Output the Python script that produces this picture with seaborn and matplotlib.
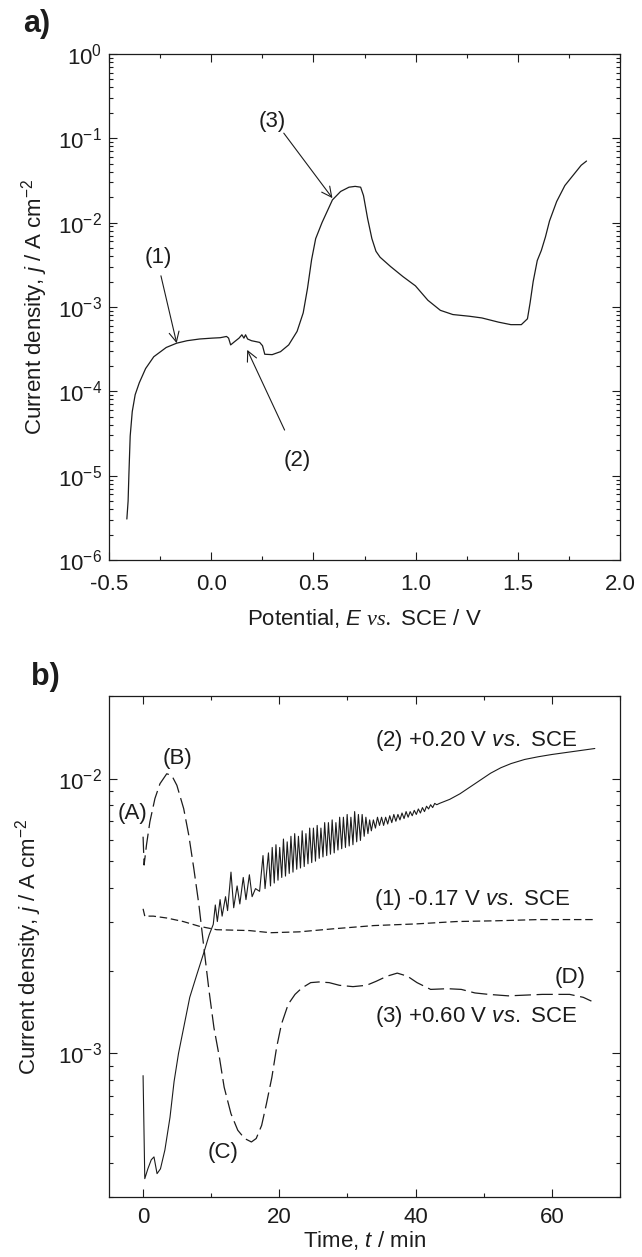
import numpy as np
import pandas as pd
import matplotlib
matplotlib.use("Agg")
import matplotlib.pyplot as plt
import seaborn as sns
from matplotlib.ticker import (LogLocator, LogFormatterMathtext, MultipleLocator,
                               FormatStrFormatter, NullFormatter)

# ---------------------------------------------------------------- data
# a) anodic polarization curve: potential (V vs. SCE) and current density (A cm^-2)
pot_E = [-0.4127, -0.4066, -0.4025, -0.3964, -0.3863, -0.372, -0.352, -0.321, -0.281,
         -0.220, -0.169, -0.118, -0.057, 0.004, 0.044, 0.075, 0.085, 0.095, 0.115,
         0.136, 0.150, 0.160, 0.168, 0.178, 0.197, 0.237, 0.251, 0.262, 0.298, 0.339,
         0.379, 0.42, 0.45, 0.471, 0.491, 0.511, 0.542, 0.593, 0.633, 0.674, 0.704,
         0.731, 0.745, 0.765, 0.786, 0.806, 0.826, 0.877, 0.938, 0.999, 1.06, 1.121,
         1.182, 1.263, 1.324, 1.405, 1.466, 1.517, 1.547, 1.560, 1.575, 1.595, 1.615,
         1.635, 1.655, 1.69, 1.73, 1.77, 1.81, 1.836]
pot_j = [3.06e-6, 5.0e-6, 1.07e-5, 2.95e-5, 5.75e-5, 9.12e-5, 1.26e-4, 1.86e-4, 2.57e-4,
         3.31e-4, 3.72e-4, 3.98e-4, 4.17e-4, 4.27e-4, 4.32e-4, 4.47e-4, 4.27e-4, 3.55e-4,
         3.89e-4, 4.27e-4, 4.68e-4, 4.27e-4, 4.68e-4, 4.17e-4, 3.98e-4, 3.80e-4, 3.47e-4,
         2.75e-4, 2.72e-4, 2.95e-4, 3.55e-4, 5.13e-4, 8.51e-4, 1.66e-3, 3.63e-3, 6.46e-3,
         1.0e-2, 1.86e-2, 2.34e-2, 2.63e-2, 2.69e-2, 2.63e-2, 2.09e-2, 1.12e-2, 6.46e-3,
         4.57e-3, 3.89e-3, 3.02e-3, 2.29e-3, 1.78e-3, 1.20e-3, 9.12e-4, 8.13e-4, 7.76e-4,
         7.41e-4, 6.61e-4, 6.17e-4, 6.17e-4, 7.24e-4, 1.12e-3, 2.0e-3, 3.55e-3, 4.68e-3,
         6.76e-3, 1.047e-2, 1.78e-2, 2.75e-2, 3.63e-2, 4.79e-2, 5.37e-2]

# labelled points on the polarization curve: (label, text pos, arrow tail, arrow tip)
pot_marks = ["(1)", "(2)", "(3)"]
pot_mark_text = [(-0.26, 3.9e-3), (0.42, 1.5e-5), (0.298, 0.16)]
pot_mark_tail = [(-0.246, 2.34e-3), (0.359, 3.47e-5), (0.355, 0.115)]
pot_mark_tip = [(-0.169, 3.72e-4), (0.176, 3.1e-4), (0.593, 1.95e-2)]

# b) potentiostatic transients: time (min) and current density (A cm^-2)
# (1) -0.17 V vs. SCE
t1 = [0.0, 0.25, 1.5, 3.5, 5.9, 8.3, 10.8, 15.6, 18.7, 22.9, 27.8, 33.9, 40.0, 46.0,
      52.0, 58.0, 66.3]
j1 = [3.36e-3, 3.16e-3, 3.16e-3, 3.11e-3, 3.02e-3, 2.90e-3, 2.82e-3, 2.80e-3, 2.75e-3,
      2.77e-3, 2.84e-3, 2.92e-3, 2.96e-3, 3.02e-3, 3.04e-3, 3.07e-3, 3.07e-3]

# (2) +0.20 V vs. SCE: initial rise, current oscillations, smooth tail
t2_rise = [0.0, 0.25, 0.7, 1.2, 1.6, 2.05, 2.55, 3.2, 3.95, 4.55, 5.2, 5.95, 6.85, 7.9,
           8.9, 9.7, 10.3]
j2_rise = [8.3e-4, 3.5e-4, 3.8e-4, 4.1e-4, 4.2e-4, 3.65e-4, 3.8e-4, 4.45e-4, 5.85e-4,
           7.9e-4, 1.0e-3, 1.24e-3, 1.6e-3, 1.94e-3, 2.32e-3, 2.7e-3, 2.95e-3]
t2_osc = [10.6, 10.9, 11.3, 11.6, 12.1, 12.4, 12.9, 13.3, 13.8, 14.2, 14.7, 15.1, 15.6,
          16.0, 16.5, 17.1, 17.6, 17.9,
          18.4, 18.7, 18.95, 19.25, 19.5, 19.8, 20.05, 20.35, 20.6, 20.9, 21.15, 21.45,
          21.7, 22.0, 22.25, 22.55, 22.8, 23.1, 23.35, 23.65, 23.9, 24.2, 24.45, 24.75,
          25.0, 25.3, 25.55, 25.85, 26.1, 26.4, 26.65, 26.95, 27.2, 27.5, 27.75, 28.05,
          28.3, 28.6, 28.85, 29.15, 29.4, 29.7, 29.95, 30.25, 30.5, 30.8, 31.05, 31.35,
          31.6, 31.9, 32.15, 32.45, 32.7, 33.0, 33.25,
          33.5, 33.8, 34.1, 34.4, 34.7, 35.0, 35.3, 35.6, 35.9, 36.2, 36.5, 36.8, 37.1,
          37.4, 37.7, 38.0, 38.3, 38.6, 38.9, 39.2, 39.5, 39.8, 40.1, 40.4, 40.7, 41.0,
          41.3, 41.6, 41.9, 42.2, 42.5, 42.8, 43.1]
j2_osc = [3.47e-3, 3.02e-3, 3.63e-3, 3.16e-3, 3.72e-3, 3.31e-3, 4.57e-3, 3.39e-3, 4.07e-3,
          3.50e-3, 4.37e-3, 3.63e-3, 4.47e-3, 3.72e-3, 3.98e-3, 3.89e-3, 5.25e-3, 3.98e-3,
          5.37e-3, 4.07e-3, 5.62e-3, 4.17e-3, 5.75e-3, 4.27e-3, 5.62e-3, 4.37e-3, 6.03e-3,
          4.42e-3, 5.89e-3, 4.52e-3, 6.17e-3, 4.57e-3, 6.31e-3, 4.68e-3, 6.17e-3, 4.73e-3,
          6.46e-3, 4.79e-3, 6.31e-3, 4.90e-3, 6.61e-3, 4.95e-3, 6.61e-3, 5.01e-3, 6.76e-3,
          5.13e-3, 6.61e-3, 5.19e-3, 6.92e-3, 5.25e-3, 6.92e-3, 5.31e-3, 7.08e-3, 5.37e-3,
          6.92e-3, 5.50e-3, 7.24e-3, 5.56e-3, 7.24e-3, 5.62e-3, 7.41e-3, 5.69e-3, 7.24e-3,
          5.75e-3, 7.59e-3, 5.89e-3, 7.41e-3, 5.96e-3, 7.41e-3, 6.17e-3, 7.24e-3, 6.31e-3,
          7.08e-3,
          6.46e-3, 7.08e-3, 6.61e-3, 7.24e-3, 6.76e-3, 7.24e-3, 6.76e-3, 7.24e-3, 6.84e-3,
          7.33e-3, 6.92e-3, 7.41e-3, 7.00e-3, 7.41e-3, 7.08e-3, 7.50e-3, 7.16e-3, 7.59e-3,
          7.24e-3, 7.59e-3, 7.33e-3, 7.67e-3, 7.41e-3, 7.76e-3, 7.50e-3, 7.85e-3, 7.59e-3,
          7.94e-3, 7.76e-3, 8.04e-3, 7.85e-3, 8.13e-3, 8.04e-3]
t2_tail = [43.5, 45.0, 46.5, 48.0, 49.5, 51.0, 52.5, 54.0, 56.0, 58.0, 60.0, 62.0, 64.0, 66.3]
j2_tail = [8.13e-3, 8.41e-3, 8.81e-3, 9.33e-3, 9.89e-3, 1.047e-2, 1.096e-2, 1.135e-2,
           1.175e-2, 1.202e-2, 1.225e-2, 1.245e-2, 1.265e-2, 1.288e-2]

# (3) +0.60 V vs. SCE
t3 = [0.0, 0.15, 0.5, 1.0, 1.74, 2.48, 3.47, 4.2, 4.96, 5.96, 6.7, 7.44, 8.19, 8.93, 9.68,
      10.4, 11.2, 11.9, 12.9, 13.9, 14.9, 15.9, 16.6, 17.4, 18.1, 18.9, 19.6, 20.3, 21.3,
      22.3, 23.3, 24.6, 25.8, 27.3, 28.8, 30.8, 32.8, 34.2, 35.8, 37.3, 38.8, 40.2, 42.2,
      44.7, 46.7, 48.7, 50.7, 53.6, 58.6, 62.6, 64.6, 65.8]
j3 = [6.15e-3, 4.85e-3, 5.74e-3, 6.97e-3, 8.47e-3, 9.59e-3, 1.042e-2, 1.028e-2, 9.46e-3,
      7.78e-3, 6.24e-3, 4.72e-3, 3.48e-3, 2.42e-3, 1.69e-3, 1.24e-3, 9.68e-4, 7.53e-4,
      6.03e-4, 5.25e-4, 4.90e-4, 4.76e-4, 4.90e-4, 5.47e-4, 6.55e-4, 8.18e-4, 1.052e-3,
      1.276e-3, 1.51e-3, 1.64e-3, 1.73e-3, 1.81e-3, 1.82e-3, 1.81e-3, 1.77e-3, 1.75e-3,
      1.77e-3, 1.83e-3, 1.91e-3, 1.96e-3, 1.91e-3, 1.81e-3, 1.71e-3, 1.72e-3, 1.71e-3,
      1.66e-3, 1.64e-3, 1.62e-3, 1.64e-3, 1.64e-3, 1.60e-3, 1.55e-3]

# curve captions and feature letters in panel b
curve_captions = ["(2) +0.20 V $\\mathit{vs.}$ SCE", "(1) -0.17 V $\\mathit{vs.}$ SCE",
                  "(3) +0.60 V $\\mathit{vs.}$ SCE"]
caption_pos = [(63.7, 1.38e-2), (62.7, 3.64e-3), (63.7, 1.36e-3)]
letters = ["(A)", "(B)", "(C)", "(D)"]
letter_pos = [(-1.6, 7.5e-3), (5.0, 1.18e-2), (11.8, 4.34e-4), (62.7, 1.89e-3)]

# ---------------------------------------------------------------- style
INK = "#1c1c1c"
sns.set_style("ticks")
plt.rcParams.update({
    "font.family": ["Liberation Sans", "DejaVu Sans"],
    "mathtext.fontset": "custom",
    "mathtext.rm": "Liberation Sans",
    "mathtext.it": "Liberation Sans:italic",
    "mathtext.cal": "Liberation Serif:italic",
    "axes.unicode_minus": False,
    "text.color": INK,
    "axes.labelcolor": INK,
})
FS = 16


def style_axes(ax, xpad):
    ax.tick_params(which="both", direction="in", top=True, right=True,
                   width=0.8, color=INK, labelsize=FS, labelcolor=INK)
    ax.tick_params(which="major", length=5.5)
    ax.tick_params(which="minor", length=3)
    ax.tick_params(axis="x", which="major", pad=xpad)
    ax.tick_params(axis="y", which="major", pad=5)
    for sp in ax.spines.values():
        sp.set_linewidth(0.9)
        sp.set_color(INK)


def log_y(ax):
    ax.set_yscale("log")
    ax.yaxis.set_major_locator(LogLocator(base=10, numticks=20))
    ax.yaxis.set_minor_locator(LogLocator(base=10, subs=np.arange(2, 10), numticks=20))
    ax.yaxis.set_major_formatter(LogFormatterMathtext())
    ax.yaxis.set_minor_formatter(NullFormatter())


fig = plt.figure(figsize=(6.42, 12.57), dpi=100)
ax_a = fig.add_axes([0.1698, 0.5545, 0.796, 0.4026])
ax_b = fig.add_axes([0.1698, 0.0477, 0.796, 0.3986])

# ---------------------------------------------------------------- panel a
df_a = pd.DataFrame({"E": pot_E, "j": pot_j})
sns.lineplot(data=df_a, x="E", y="j", ax=ax_a, estimator=None, sort=False,
             color=INK, lw=0.9)
log_y(ax_a)
ax_a.set_xlim(-0.5, 2.0)
ax_a.set_ylim(1e-6, 1.0)
ax_a.xaxis.set_major_locator(MultipleLocator(0.5))
ax_a.xaxis.set_minor_locator(MultipleLocator(0.25))
ax_a.xaxis.set_major_formatter(FormatStrFormatter("%.1f"))
style_axes(ax_a, xpad=10)
ax_a.set_xlabel("Potential, $\\mathit{E}$ $\\mathcal{vs.}$ SCE / V", fontsize=FS, labelpad=9)
ax_a.set_ylabel("Current density, $\\mathit{j}$ / A cm$^{-2}$", fontsize=FS, labelpad=6)

for lab, txt, tail, tip in zip(pot_marks, pot_mark_text, pot_mark_tail, pot_mark_tip):
    ax_a.text(*txt, lab, fontsize=FS, ha="center", va="center")
    ax_a.annotate("", xy=tip, xytext=tail,
                  arrowprops=dict(arrowstyle="->", lw=0.8, color=INK,
                                  shrinkA=0, shrinkB=0, mutation_scale=18))

# ---------------------------------------------------------------- panel b
df_2 = pd.DataFrame({"t": t2_rise + t2_osc + t2_tail, "j": j2_rise + j2_osc + j2_tail})
df_1 = pd.DataFrame({"t": t1, "j": j1})
df_3 = pd.DataFrame({"t": t3, "j": j3})

sns.lineplot(data=df_2, x="t", y="j", ax=ax_b, estimator=None, sort=False,
             color=INK, lw=0.8)
sns.lineplot(data=df_1, x="t", y="j", ax=ax_b, estimator=None, sort=False,
             color=INK, lw=0.9, linestyle=(0, (6, 3)))
sns.lineplot(data=df_3, x="t", y="j", ax=ax_b, estimator=None, sort=False,
             color=INK, lw=0.9, linestyle=(0, (13, 4.5)))
log_y(ax_b)
ax_b.set_xlim(-5, 70)
ax_b.set_ylim(3e-4, 2e-2)
ax_b.xaxis.set_major_locator(MultipleLocator(20))
ax_b.xaxis.set_minor_locator(MultipleLocator(10))
style_axes(ax_b, xpad=7)
ax_b.set_xlabel("Time, $\\mathit{t}$ / min", fontsize=FS, labelpad=1)
ax_b.set_ylabel("Current density, $\\mathit{j}$ / A cm$^{-2}$", fontsize=FS, labelpad=10)

for cap, (x, y) in zip(curve_captions, caption_pos):
    ax_b.text(x, y, cap, fontsize=FS, ha="right", va="center")
for lab, (x, y) in zip(letters, letter_pos):
    ax_b.text(x, y, lab, fontsize=FS, ha="center", va="center")

for ax in (ax_a, ax_b):
    leg = ax.get_legend()
    if leg is not None:
        leg.remove()

fig.text(37 / 642, 1 - 24 / 1257, "a)", fontsize=22, fontweight="bold",
         ha="center", va="center")
fig.text(45 / 642, 1 - 677 / 1257, "b)", fontsize=22, fontweight="bold",
         ha="center", va="center")

fig.savefig("out.png", dpi=100, facecolor="white")
